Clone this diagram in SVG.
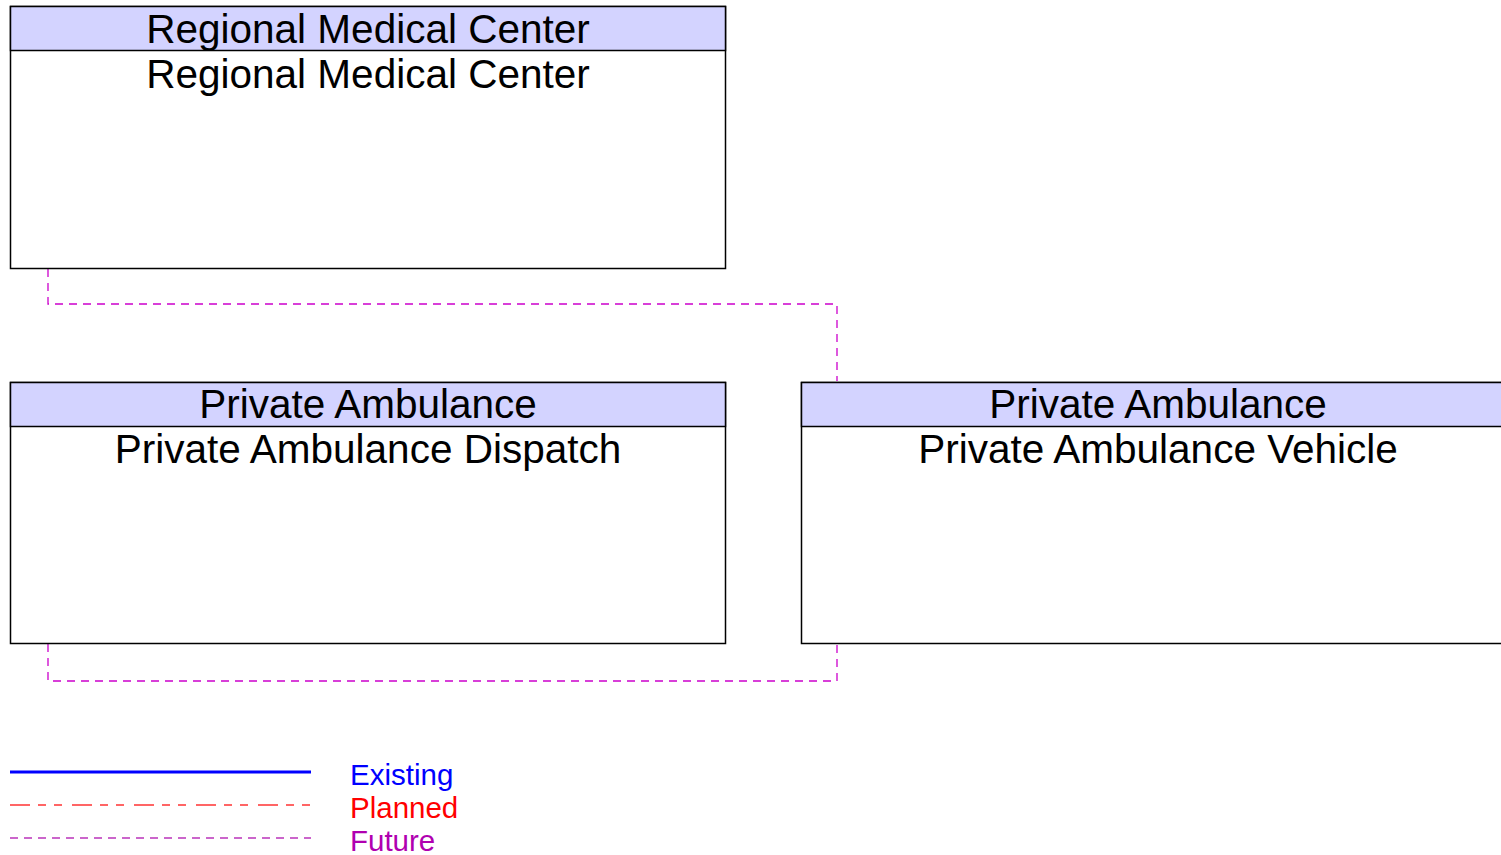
<svg xmlns="http://www.w3.org/2000/svg" width="1501" height="855" viewBox="0 0 1501 855">
<style>
.box{fill:#fff;stroke:#000;stroke-width:1.5}
.hdr{fill:#d3d3ff;stroke:#000;stroke-width:1.5}
.t{font-family:"Liberation Sans",Arial,sans-serif;font-size:40.5px;fill:#000;text-anchor:middle}
.fut{fill:none;stroke:#cc00cc;stroke-width:1.3;stroke-dasharray:8,6}
.lg{font-family:"Liberation Sans",Arial,sans-serif;font-size:29.5px}
</style>
<rect width="1501" height="855" fill="#fff"/>
<g id="connectors">
<polyline class="fut" points="48,269 48,304 837,304 837,381"/>
<polyline class="fut" points="48,644 48,681 837,681 837,644"/>
</g>
<g id="regional-medical-center">
<rect class="box" x="10.5" y="6.5" width="715" height="262"/>
<rect class="hdr" x="10.5" y="6.5" width="715" height="44"/>
<text class="t" x="368" y="43">Regional Medical Center</text>
<text class="t" x="368" y="88">Regional Medical Center</text>
</g>
<g id="private-ambulance-dispatch">
<rect class="box" x="10.5" y="382.5" width="715" height="261"/>
<rect class="hdr" x="10.5" y="382.5" width="715" height="44"/>
<text class="t" x="368" y="418">Private Ambulance</text>
<text class="t" x="368" y="463">Private Ambulance Dispatch</text>
</g>
<g id="private-ambulance-vehicle">
<rect class="box" x="801.5" y="382.5" width="715" height="261"/>
<rect class="hdr" x="801.5" y="382.5" width="715" height="44"/>
<text class="t" x="1158" y="418">Private Ambulance</text>
<text class="t" x="1158" y="463">Private Ambulance Vehicle</text>
</g>
<g id="legend">
<line x1="10" y1="772" x2="311" y2="772" stroke="#0000ff" stroke-width="3"/>
<line x1="10" y1="805" x2="311" y2="805" stroke="#ff3333" stroke-width="1.5" stroke-dasharray="20,8,8,8,8,10"/>
<line x1="10" y1="838" x2="311" y2="838" stroke="#bb33bb" stroke-width="1.5" stroke-dasharray="8,6"/>
<text class="lg" x="350" y="785" fill="#0000ff">Existing</text>
<text class="lg" x="350" y="818" fill="#ff0000">Planned</text>
<text class="lg" x="350" y="851" fill="#b000b0">Future</text>
</g>
</svg>
